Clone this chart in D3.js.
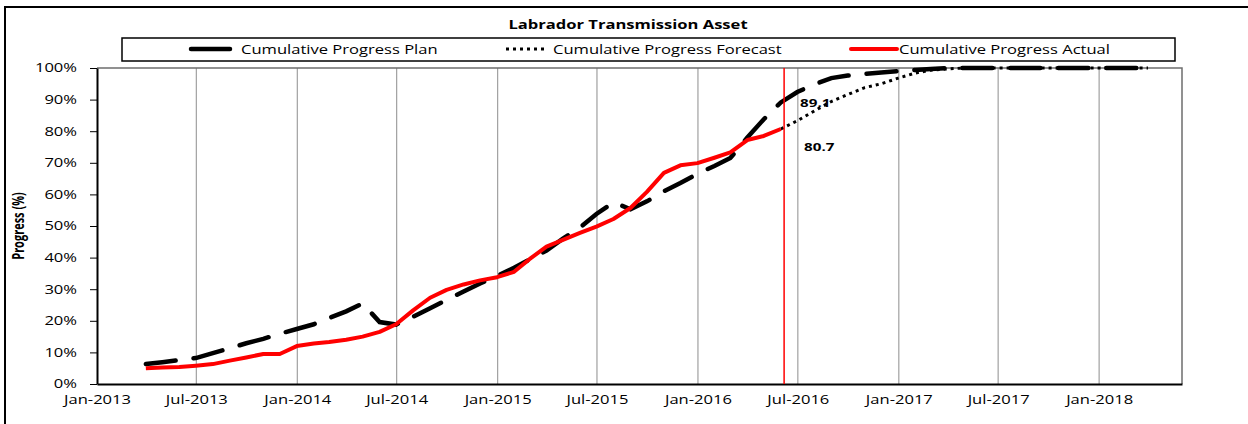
<!DOCTYPE html>
<html>
<head>
<meta charset="utf-8">
<script src="https://cdn.jsdelivr.net/npm/d3@7/dist/d3.min.js"></script>
<style>
body { margin: 0; background: #fff; }
svg text { font-family: "Open Sans", sans-serif; fill: #000; }
</style>
</head>
<body>
<svg id="chart" width="1248" height="424"></svg>
<script>
// chart data, monthly (month end), values in %
var chartTitle = "Labrador Transmission Asset",
    yTitle = "Progress (%)",
    legendLabels = ["Cumulative Progress Plan", "Cumulative Progress Forecast", "Cumulative Progress Actual"],
    planStart = "2013-03",
    planValues = [6.3, 6.9, 7.6, 8.2, 9.8, 11.3, 12.9, 14.3, 15.9, 17.4,
        18.9, 20.9, 23.0, 25.5, 19.6, 18.8, 21.3, 24.0, 26.6, 29.3, 31.8, 34.2,
        36.8, 39.4, 42.2, 46.0, 49.5, 53.8, 57.5, 55.3, 57.8, 61.0, 63.6, 66.5,
        69.0, 71.5, 78.0, 83.8, 89.1, 92.4, 94.8, 96.8, 97.6, 98.1, 98.6, 99.0,
        99.4, 99.7, 100, 100, 100, 100, 100, 100, 100, 100, 100, 100,
        100, 100, 100],
    actualStart = "2013-03",
    actualValues = [5.0, 5.2, 5.4, 5.8, 6.3, 7.4, 8.4, 9.5, 9.5, 12.0,
        12.8, 13.3, 14.0, 15.0, 16.5, 18.9, 23.3, 27.3, 29.8, 31.5, 32.8, 33.8,
        35.5, 39.5, 43.5, 45.6, 47.8, 49.8, 52.2, 55.7, 60.8, 66.8, 69.2, 69.9,
        71.6, 73.3, 77.2, 78.5, 80.7],
    forecastStart = "2016-05",
    forecastValues = [80.7, 83.3, 86.4, 89.4, 91.6, 93.8, 95.0, 96.8,
        98.4, 99.3, 99.7, 100, 100, 100, 100, 100, 100, 100, 100, 100,
        100, 100, 100],
    dataDate = "2016-06-06",
    yTicks = [0, 10, 20, 30, 40, 50, 60, 70, 80, 90, 100];

var svg = d3.select("#chart"),
    parseMonth = d3.timeParse("%Y-%m"),
    parseDay = d3.timeParse("%Y-%m-%d"),
    sx = 1.38,   // text in the source is stretched wide
    pLeft = 97, pRight = 1182, pTop = 68, pBottom = 384;

function monthEnds(start, values) {
    var first = parseMonth(start);
    return values.map(function (v, i) {
        var d = d3.timeDay.offset(d3.timeMonth.offset(first, i + 1), -1);
        return { date: d, value: v };
    });
}

var plan = monthEnds(planStart, planValues),
    actual = monthEnds(actualStart, actualValues),
    forecast = monthEnds(forecastStart, forecastValues);

var x = d3.scaleTime()
    .domain([new Date(2013, 0, 1), new Date(2018, 5, 1)])
    .range([pLeft, pRight]);
var y = d3.scaleLinear().domain([0, 100]).range([pBottom, pTop]);
var xTicks = d3.timeMonth.every(6).range(new Date(2013, 0, 1), new Date(2018, 1, 1));

// outer frame
svg.append("path")
    .attr("d", "M5,424V7H1248")
    .attr("fill", "none").attr("stroke", "#000").attr("stroke-width", 2);

function stretchText(parent, px, py, txt, anchor) {
    return parent.append("g")
        .attr("transform", "translate(" + px + "," + py + ") scale(" + sx + ",1)")
        .append("text").attr("text-anchor", anchor || "start").text(txt);
}

// title
stretchText(svg, 628, 29, chartTitle, "middle")
    .style("font-size", "12px").style("font-weight", "bold");

// legend
var legend = svg.append("g");
legend.append("rect")
    .attr("x", 122).attr("y", 38).attr("width", 1053).attr("height", 23)
    .attr("fill", "#fff").attr("stroke", "#000").attr("stroke-width", 1.5);
var legendItems = [
    { x0: 191, x1: 230, tx: 241, stroke: "#000", w: 4.5, dash: null },
    { x0: 506, x1: 545, tx: 553, stroke: "#000", w: 3, dash: "3,4" },
    { x0: 851, x1: 897, tx: 899, stroke: "#ff0000", w: 4, dash: null }
];
legendItems.forEach(function (it, i) {
    legend.append("line")
        .attr("x1", it.x0).attr("x2", it.x1).attr("y1", 49).attr("y2", 49)
        .attr("stroke", it.stroke).attr("stroke-width", it.w)
        .attr("stroke-dasharray", it.dash)
        .attr("stroke-linecap", it.dash ? "butt" : "round");
    stretchText(legend, it.tx, 53.5, legendLabels[i]).style("font-size", "12px");
});

// vertical grid
svg.append("g").selectAll("line")
    .data(xTicks.slice(1))
    .enter().append("line")
    .attr("x1", function (d) { return x(d); })
    .attr("x2", function (d) { return x(d); })
    .attr("y1", pTop).attr("y2", pBottom)
    .attr("stroke", "#a0a0a0").attr("stroke-width", 1.2);

// plot border top / right
svg.append("path")
    .attr("d", "M" + pLeft + "," + pTop + "H" + pRight + "V" + pBottom)
    .attr("fill", "none").attr("stroke", "#6e6e6e").attr("stroke-width", 1.5);

// axes
var xAxis = svg.append("g")
    .attr("transform", "translate(0," + pBottom + ")")
    .call(d3.axisBottom(x).tickValues(xTicks).tickSize(0).tickFormat(d3.timeFormat("%b-%Y")));
xAxis.select(".domain").attr("stroke", "#000").attr("stroke-width", 2);
xAxis.selectAll("text")
    .attr("y", 11).attr("dy", "0.71em")
    .attr("transform", "scale(" + sx + ",1)")
    .style("font-size", "12px").style("font-family", "Open Sans");

var yAxis = svg.append("g")
    .attr("transform", "translate(" + pLeft + ",0)")
    .call(d3.axisLeft(y).tickValues(yTicks).tickSize(7).tickSizeOuter(0)
        .tickFormat(function (d) { return d + "%"; }));
yAxis.select(".domain").attr("stroke", "#000").attr("stroke-width", 2);
yAxis.selectAll(".tick line").attr("stroke", "#000").attr("stroke-width", 1);
yAxis.selectAll("text")
    .attr("x", -20 / sx)
    .attr("transform", "scale(" + sx + ",1)")
    .style("font-size", "12px").style("font-family", "Open Sans");

// y title
svg.append("g")
    .attr("transform", "translate(24,226) rotate(-90) scale(1," + sx + ")")
    .append("text").attr("text-anchor", "middle")
    .style("font-size", "11px").style("font-weight", "bold")
    .text(yTitle);

// lines
var line = d3.line()
    .x(function (d) { return x(d.date); })
    .y(function (d) { return y(d.value); });

svg.append("path").datum(plan)
    .attr("d", line).attr("fill", "none")
    .attr("stroke", "#000").attr("stroke-width", 4.5)
    .attr("stroke-dasharray", "30,18").attr("stroke-linecap", "round");

svg.append("path").datum(forecast)
    .attr("d", line).attr("fill", "none")
    .attr("stroke", "#000").attr("stroke-width", 3)
    .attr("stroke-dasharray", "3,4");

svg.append("path").datum(actual)
    .attr("d", line).attr("fill", "none")
    .attr("stroke", "#ff0000").attr("stroke-width", 4)
    .attr("stroke-linejoin", "round");

// data date marker
var dd = parseDay(dataDate);
svg.append("line")
    .attr("x1", x(dd)).attr("x2", x(dd)).attr("y1", pTop).attr("y2", pBottom)
    .attr("stroke", "#ff0000").attr("stroke-width", 1.5);

// value labels
var lastActual = actual[actual.length - 1],
    planAtDate = plan.filter(function (d) { return +d.date === +lastActual.date; })[0];
stretchText(svg, x(dd) + 16, y(planAtDate.value) + 5, planAtDate.value.toFixed(1))
    .style("font-size", "11px").style("font-weight", "bold");
stretchText(svg, x(dd) + 20, y(lastActual.value) + 22, lastActual.value.toFixed(1))
    .style("font-size", "11px").style("font-weight", "bold");
</script>
</body>
</html>
